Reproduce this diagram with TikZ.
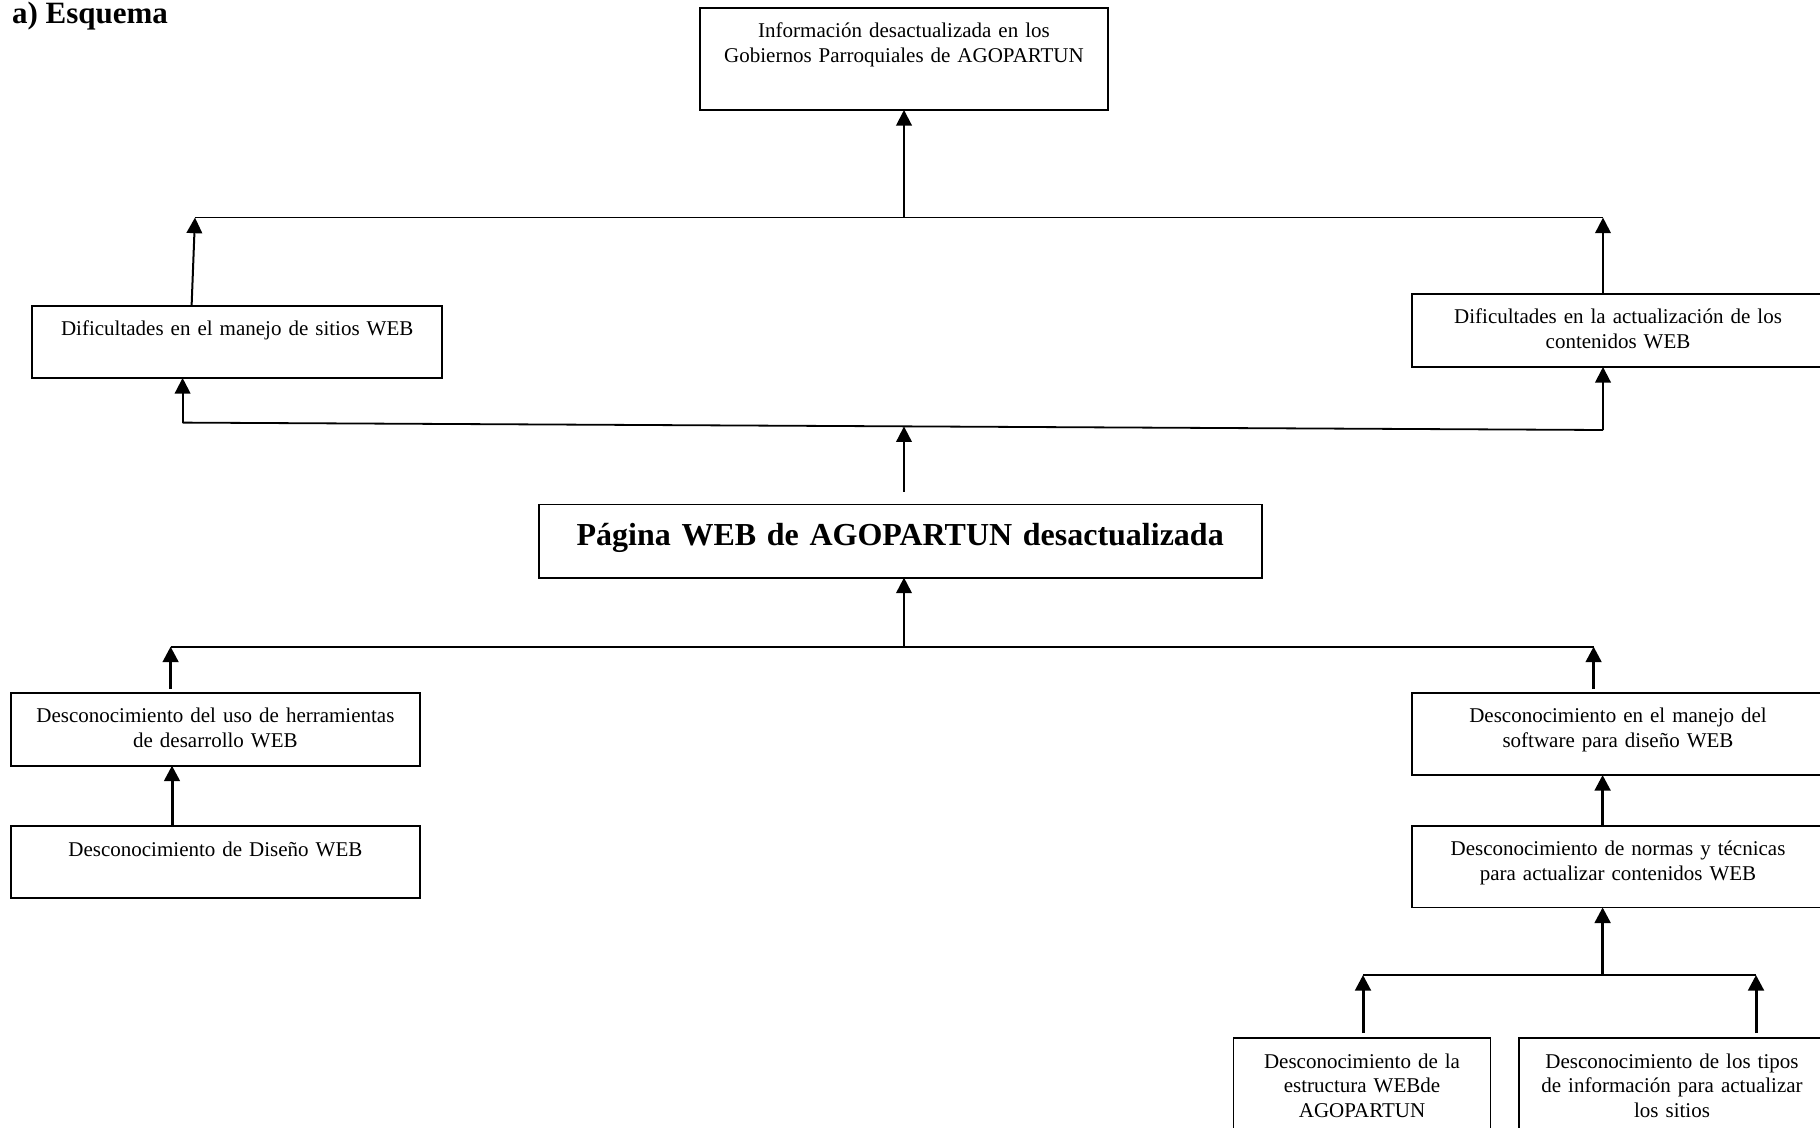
\documentclass[tikz,border=0pt]{standalone}
\usepackage{fontspec}
\setmainfont{Liberation Serif}
\usetikzlibrary{arrows.meta}
\usetikzlibrary{positioning}

\begin{document}
\begin{tikzpicture}[x=1pt, y=-1pt,
    caja/.style={draw, line width=.9pt, anchor=north, align=center, inner xsep=3pt, inner ysep=0pt, outer sep=0pt, text height=15pt, font=\fontsize{10.5}{12.4}\selectfont},
    flecha/.style={-{Triangle[length=7.8pt,width=7.8pt]}, line width=1pt},
    gruesa/.style={flecha, line width=1.5pt},
    linea/.style={line width=.9pt}]
        \useasboundingbox (0,0) rectangle (910,564);

        \node (esquema) [anchor=base west, inner sep=0pt, font=\fontsize{15.5}{18}\selectfont\bfseries] at (5.8,11.7) {a) Esquema};

        \node (info) [caja, text width=198pt, text depth=36pt] at (452,4) {Información desactualizada en los\\Gobiernos Parroquiales de AGOPARTUN};

        \node (manejo) [caja, text width=199pt, text depth=21pt] at (118.6,153) {Dificultades en el manejo de sitios WEB};
        \node (actual) [caja, text width=200pt, text depth=21.5pt] at (809,147) {Dificultades en la actualización de los\\contenidos WEB};

        \node (pagina) [caja, text width=355.6pt, text height=20.5pt, text depth=16.1pt, font=\fontsize{16}{19}\selectfont\bfseries] at (450.1,252.2) {Página WEB de AGOPARTUN desactualizada};

        \node (uso) [caja, text width=198.7pt, text depth=21.5pt] at (107.7,346.3) {Desconocimiento del uso de herramientas\\de desarrollo WEB};
        \node (diseno) [caja, text width=198.7pt, text depth=21pt, below=30.2pt of uso] {Desconocimiento de Diseño WEB};

        \node (software) [caja, text width=200pt, text depth=26.2pt] at (809,346.3) {Desconocimiento en el manejo del\\software para diseño WEB};
        \node (normas) [caja, text width=200pt, text depth=25.8pt, below=25.4pt of software] {Desconocimiento de normas y técnicas\\para actualizar contenidos WEB};

        \node (estructura) [caja, text width=122.5pt, text depth=40pt] at (681,519) {Desconocimiento de la\\estructura WEBde\\AGOPARTUN};
        \node (tipos) [caja, text width=147pt, text depth=40pt] at (836,519) {Desconocimiento de los tipos\\de información para actualizar\\los sitios};

        \coordinate (b1i) at (97.5,108.8);
        \coordinate (b1d) at (801.5,108.8);
        \coordinate (b1c) at (452,108.8);
        \coordinate (b2i) at (91.3,211.3);
        \coordinate (b2d) at (801.5,215);
        \coordinate (b2c) at (452,213.2);
        \coordinate (b3i) at (85.3,323.3);
        \coordinate (b3d) at (796.8,323.3);
        \coordinate (b3c) at (452,323.3);
        \coordinate (b4i) at (681.5,487.5);
        \coordinate (b4d) at (878,487.5);
        \coordinate (b4c) at (801.3,487.5);

        \draw [linea] (b1i) -- (b1d);
        \draw [flecha] (b1c) -- (info.south -| b1c);
        \draw [flecha] ([xshift=-22.8pt]manejo.north) -- (b1i);
        \draw [flecha] (actual.north -| b1d) -- (b1d);

        \draw [linea] (b2i) -- (b2d);
        \draw [flecha] (pagina.north -| b2c) ++(0,-6.4) -- (b2c);
        \draw [flecha] (b2i) -- (manejo.south -| b2i);
        \draw [flecha] (b2d) -- (actual.south -| b2d);

        \draw [linea] (b3i) -- (b3d);
        \draw [flecha] (b3c) -- (pagina.south -| b3c);
        \draw [gruesa] (uso.north -| b3i) ++(0,-1.8) -- (b3i);
        \draw [gruesa] (software.north -| b3d) ++(0,-1.8) -- (b3d);
        \draw [gruesa] ([xshift=-21.7pt]diseno.north) -- ([xshift=-21.7pt]uso.south);
        \draw [gruesa] ([xshift=-7.7pt]normas.north) -- ([xshift=-7.7pt]software.south);

        \draw [linea] (b4i) -- (b4d);
        \draw [gruesa] (b4c) -- (normas.south -| b4c);
        \draw [gruesa] (estructura.north -| b4i) ++(0,-2.5) -- (b4i);
        \draw [gruesa] (tipos.north -| b4d) ++(0,-2.5) -- (b4d);
\end{tikzpicture}
\end{document}
